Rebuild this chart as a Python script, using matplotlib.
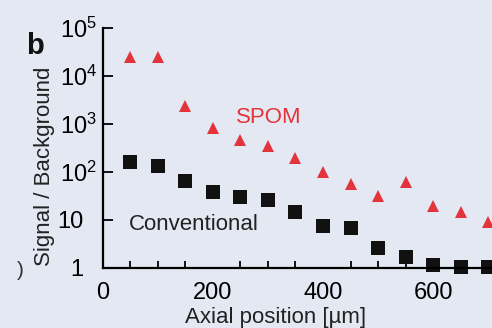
import numpy as np
import matplotlib.pyplot as plt
import matplotlib.transforms as mtransforms
from matplotlib.ticker import FixedLocator, LogLocator, NullFormatter

plt.rcParams['font.family'] = ['Liberation Sans', 'DejaVu Sans']
plt.rcParams['mathtext.fontset'] = 'custom'
plt.rcParams['mathtext.rm'] = 'Liberation Sans'
plt.rcParams['mathtext.it'] = 'Liberation Sans'

# axial position in um
position = [50, 100, 150, 200, 250, 300, 350, 400, 450, 500, 550, 600, 650, 700]
# signal / background
spom = [25000, 25000, 2400, 830, 460, 350, 195, 100, 56, 32, 62, 20, 15, 9]
conventional = [162, 133, 65, 38, 30, 26, 15, 7.5, 6.8, 2.6, 1.7, 1.15, 1.05, 1.05]

ytick_vals = [1, 10, 1e2, 1e3, 1e4, 1e5]
ytick_labels = ['1', '10', '$10^2$', '$10^3$', '$10^4$', '$10^5$']
xtick_vals = [0, 200, 400, 600]

bg = '#e4e8f2'
red = '#e2343a'

fig = plt.figure(figsize=(4.92, 3.28), dpi=100, facecolor=bg)
ax = fig.add_axes([0.209, 0.183, 0.791, 0.732], facecolor=bg)

ax.plot(position, spom, '^', color=red, markersize=8, markeredgewidth=0)
ax.plot(position, conventional, 's', color='#111111', markersize=9.5,
        markeredgewidth=0, clip_on=False)

ax.set_yscale('log')
ax.set_ylim(1, 1e5)
ax.set_xlim(0, 707)

ax.yaxis.set_major_locator(FixedLocator(ytick_vals))
ax.set_yticklabels(ytick_labels)
ax.yaxis.set_minor_locator(LogLocator(base=10, subs=np.arange(2, 10)))
ax.yaxis.set_minor_formatter(NullFormatter())

ax.xaxis.set_major_locator(FixedLocator(xtick_vals))
ax.xaxis.set_minor_locator(FixedLocator(np.arange(50, 750, 50)))

for s in ['top', 'right']:
    ax.spines[s].set_visible(False)
for s in ['left', 'bottom']:
    ax.spines[s].set_linewidth(1.6)

ax.tick_params(axis='y', which='major', direction='in', length=7, width=1.3,
               labelsize=17, pad=4)
ax.tick_params(axis='y', which='minor', direction='in', length=4.5, width=1.0)
ax.tick_params(axis='x', which='major', direction='in', length=0,
               labelsize=17, pad=10)
ax.tick_params(axis='x', which='minor', direction='in', length=5, width=1.3)

# plain "1" and "10" sit further left, lined up with the base of 10^n
shift = mtransforms.ScaledTranslation(-14 / 100, 0, fig.dpi_scale_trans)
for tick in ax.yaxis.get_major_ticks()[:2]:
    tick.label1.set_transform(tick.label1.get_transform() + shift)

ax.text(47, 7.9, 'Conventional', fontsize=16, color='#222222', va='center')
ax.text(242, 1330, 'SPOM', fontsize=16, color=red, va='center')

fig.text(45 / 492, 1 - 166 / 328, 'Signal / Background', rotation=90,
         fontsize=16, ha='center', va='center', color='#222222')
fig.text(276 / 492, 1 - 318 / 328, 'Axial position [\u00b5m]', fontsize=16,
         ha='center', va='center', color='#222222')
fig.text(35 / 492, 1 - 46 / 328, 'b', fontsize=21, fontweight='bold',
         ha='center', va='center', color='#111111')
fig.text(20 / 492, 1 - 271 / 328, ')', fontsize=15, ha='center',
         va='center', color='#333333')

fig.savefig('out.png', dpi=100, facecolor=bg)
